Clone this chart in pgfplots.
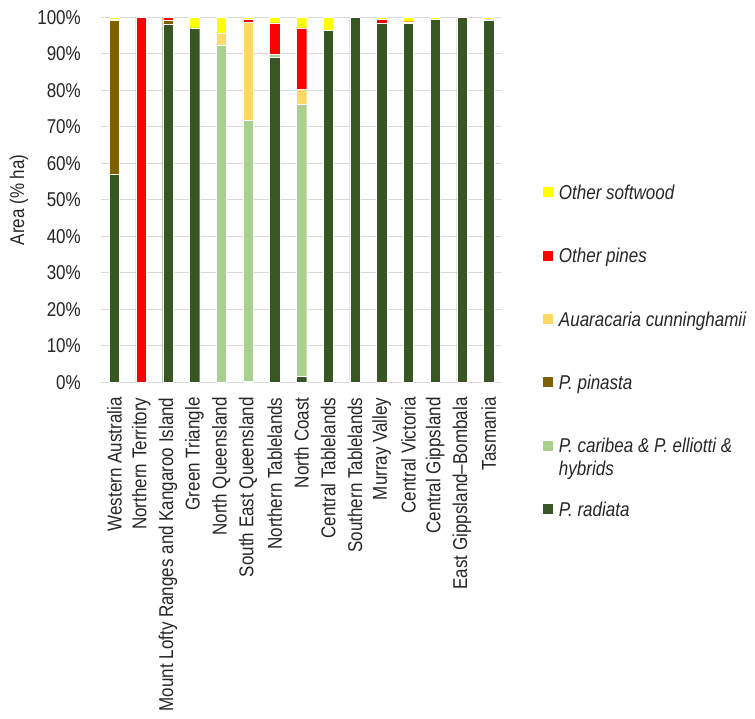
\documentclass[border=0pt]{standalone}
\usepackage{fontspec}
\setmainfont{Liberation Sans}[FakeStretch=0.85]
\usepackage{pgfplots}
\pgfplotsset{compat=1.18}
\usepackage{pgfplotstable}

\definecolor{cRadiata}{HTML}{375623}
\definecolor{cCaribea}{HTML}{A9D18E}
\definecolor{cPinasta}{HTML}{7F6000}
\definecolor{cAraucaria}{HTML}{FFD966}
\definecolor{cOtherPines}{HTML}{FF0000}
\definecolor{cSoftwood}{HTML}{FFFF00}
\definecolor{cGrid}{HTML}{D9D9D9}
\definecolor{cText}{HTML}{262626}

% Share of plantation area (% ha) by species group and region
\pgfplotstableread{
idx radiata caribea pinasta araucaria otherpines softwood
0   57.0    0.0     42.1    0.0       0.4        0.5
1   0.0     0.0     0.0     0.0       100.0      0.0
2   98.2    0.0     1.1     0.0       0.7        0.0
3   97.1    0.0     0.0     0.0       0.0        2.9
4   0.0     92.5    0.0     3.2       0.0        4.3
5   0.3     71.6    0.0     26.8      0.8        0.5
6   89.1    0.8     0.0     0.0       8.6        1.5
7   1.7     74.4    0.0     4.2       16.8       2.9
8   96.5    0.0     0.0     0.0       0.0        3.5
9   100.0   0.0     0.0     0.0       0.0        0.0
10  98.5    0.0     0.0     0.0       1.0        0.5
11  98.4    0.0     0.0     0.0       0.4        1.2
12  99.5    0.0     0.0     0.0       0.0        0.5
13  100.0   0.0     0.0     0.0       0.0        0.0
14  99.3    0.0     0.0     0.0       0.2        0.5
}\areadata

\begin{document}
\begin{tikzpicture}
\useasboundingbox (-101pt,-336.7pt) rectangle (654pt,382.3pt);
\begin{axis}[
  at={(0pt,0pt)}, anchor=south west,
  scale only axis,
  width=401pt, height=365pt,
  ybar stacked, bar width=10.3pt,
  xmin=-0.5, xmax=14.5,
  ymin=0, ymax=100,
  axis line style={draw=none},
  major tick length=0pt,
  ymajorgrids,
  grid style={cGrid, line width=1.2pt},
  ytick={0,10,...,100},
  yticklabel={\pgfmathprintnumber{\tick}\%},
  /pgf/number format/assume math mode=true,
  xtick={0,...,14},
  xticklabels={Western Australia, Northern Territory, Mount Lofty Ranges and Kangaroo Island, Green Triangle, North Queensland, South East Queensland, Northern Tablelands, North Coast, Central Tablelands, Southern Tablelands, Murray Valley, Central Victoria, Central Gippsland, East Gippsland–Bombala, Tasmania},
  tick label style={font=\fontsize{20}{24}\selectfont, text=cText},
  yticklabel style={anchor=east, inner sep=0pt, xshift=-20pt},
  xticklabel style={yshift=-15pt, rotate=90, anchor=east, inner sep=0pt},
  ylabel={Area (\% ha)},
  ylabel style={font=\fontsize{20}{24}\selectfont, text=cText, at={(axis description cs:-0.2045,0.5)}, anchor=center},
  legend image code/.code={\fill[#1, draw=none] (0pt,-3.5pt) rectangle (10pt,6.5pt);},
  reverse legend,
  legend cell align=left,
  legend style={
    at={(axis description cs:1.1022,0.5425)}, anchor=north west,
    draw=none, fill=none, inner sep=0pt, outer sep=0pt,
    font=\fontsize{20}{24}\selectfont\itshape, text=cText,
    nodes={inner sep=0pt, text height=15pt, text depth=4pt},
    row sep=44.4pt, column sep=6pt,
  },
  every axis plot/.append style={draw=white, line width=0.3pt},
]
\addplot[fill=cRadiata] table[x=idx, y=radiata] {\areadata};
\addplot[fill=cCaribea] table[x=idx, y=caribea] {\areadata};
\addplot[fill=cPinasta] table[x=idx, y=pinasta] {\areadata};
\addplot[fill=cAraucaria] table[x=idx, y=araucaria] {\areadata};
\addplot[fill=cOtherPines] table[x=idx, y=otherpines] {\areadata};
\addplot[fill=cSoftwood] table[x=idx, y=softwood] {\areadata};
\legend{P. radiata, \rlap{\smash{\raisebox{-23pt}{hybrids}}}P. caribea \& P. elliotti \&, P. pinasta, Auaracaria cunninghamii, Other pines, Other softwood}
\end{axis}
\end{tikzpicture}
\end{document}
